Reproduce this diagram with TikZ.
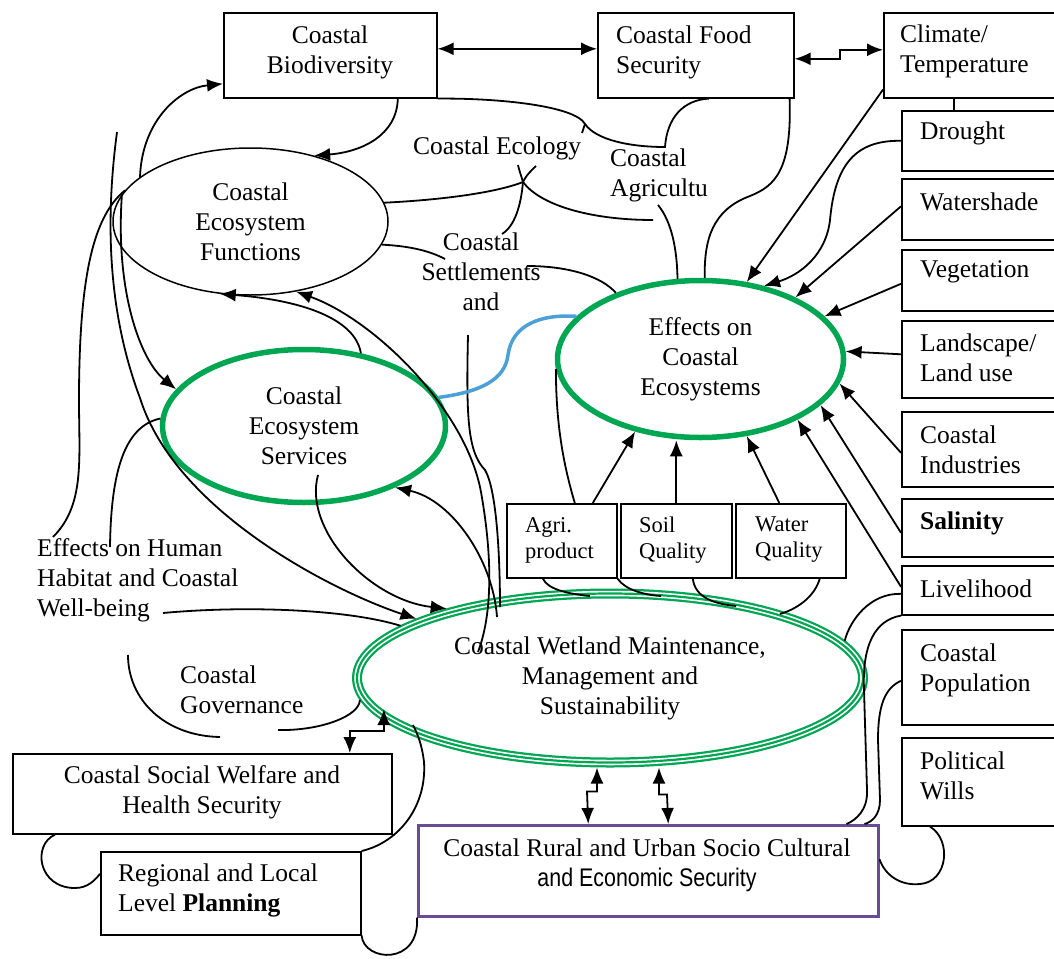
\documentclass[tikz,border=0pt]{standalone}
\usepackage{fontspec}
\setmainfont{Liberation Serif}
\setsansfont{Liberation Sans}
\usepackage{graphicx}
\usetikzlibrary{arrows.meta,shapes.geometric}
\definecolor{cgreen}{RGB}{0,166,81}
\definecolor{cblue}{RGB}{75,160,215}
\definecolor{cpurple}{RGB}{105,75,150}
\begin{document}
\begin{tikzpicture}[x=1pt,y=-1pt,
  every node/.style={inner sep=0pt},
  bigfont/.style={font=\fontsize{25.5}{30}\selectfont},
  smallfont/.style={font=\fontsize{22.5}{26}\selectfont},
  box/.style={draw, line width=1.6pt, rectangle, anchor=north west},
  lbl/.style={bigfont, align=left, anchor=west},
  ctext/.style={bigfont, align=center},
  con/.style={line width=1.8pt},
  arr/.style={con,-{Latex[length=16pt,width=13pt]}},
  dar/.style={con,{Latex[length=16pt,width=13pt]}-{Latex[length=16pt,width=13pt]}},
  gell/.style={ellipse, draw=cgreen, line width=5.5pt, bigfont, align=center},
]
\useasboundingbox (0,0) rectangle (1054,958);

% ---------- top boxes ----------
\node[box, minimum width=213pt, minimum height=85pt] (bio) at (223,12) {};
\node[ctext] (biot) at (330,52) {Coastal\\Biodiversity};
\node[box, minimum width=196pt, minimum height=85pt] (food) at (597,12) {};
\node[lbl] (foodt) at (616,52) {Coastal Food\\Security};
\node[box, minimum width=177pt, minimum height=85pt] (clim) at (883,12) {};
\node[lbl] (climt) at (900,51) {Climate/\\Temperature};

% ---------- right column ----------
\node[box, minimum width=160pt, minimum height=60pt] (drought) at (901,110) {};
\node[lbl] at (920,133) {Drought};
\node[box, minimum width=160pt, minimum height=61pt] (water) at (901,178) {};
\node[lbl] at (920,202) {Watershade};
\node[box, minimum width=160pt, minimum height=61pt] (veg) at (901,249) {};
\node[lbl] at (920,272) {Vegetation};
\node[box, minimum width=160pt, minimum height=77pt] (land) at (901,320) {};
\node[lbl] at (920,358) {Landscape/\\Land use};
\node[box, minimum width=160pt, minimum height=75pt] (ind) at (901,411) {};
\node[lbl] at (920,450) {Coastal\\Industries};
\node[box, minimum width=160pt, minimum height=58pt] (sal) at (901,498) {};
\node[lbl] at (920,523) {\textbf{Salinity}};
\node[box, minimum width=160pt, minimum height=49pt] (live) at (901,565) {};
\node[lbl] at (920,589) {Livelihood};
\node[box, minimum width=160pt, minimum height=95pt] (pop) at (901,629) {};
\node[lbl] at (920,670) {Coastal\\Population};
\node[box, minimum width=160pt, minimum height=88pt] (pol) at (901,737) {};
\node[lbl] at (920,776) {Political\\Wills};

% ---------- small boxes ----------
\node[box, minimum width=110pt, minimum height=74pt] (agri) at (506,503) {};
\node[lbl, smallfont] at (525,540) {Agri.\\product};
\node[box, minimum width=111pt, minimum height=74pt] (soil) at (620,503) {};
\node[lbl, smallfont] at (639,540) {Soil\\Quality};
\node[box, minimum width=110pt, minimum height=74pt] (wq) at (735,503) {};
\node[lbl, smallfont] at (755,540) {Water\\Quality};

% ---------- bottom boxes ----------
\node[box, minimum width=379pt, minimum height=80pt] (welf) at (12,753) {};
\node[ctext] at (202,792) {Coastal Social Welfare and\\Health Security};
\node[box, minimum width=260pt, minimum height=83pt] (reg) at (100,851) {};
\node[lbl] at (118,890) {Regional and Local\\Level \textbf{Planning}};
\node[box, draw=cpurple, line width=2.5pt, minimum width=460pt, minimum height=91pt] (rural) at (417,824) {};
\node[ctext] at (647,865) {Coastal Rural and Urban Socio Cultural\\{\sffamily\scalebox{0.84}[1]{and Economic Security}}};

% ---------- ellipses ----------
\node[ellipse, draw, line width=1.5pt, minimum width=275pt, minimum height=147pt, bigfont, align=center] (func) at (250.5,221.5) {Coastal\\Ecosystem\\Functions};
\node[gell, minimum width=283pt, minimum height=153pt] (serv) at (304,426) {Coastal\\Ecosystem\\Services};
\node[gell, minimum width=286pt, minimum height=157pt] (eff) at (700.5,359) {Effects on\\Coastal\\Ecosystems};
\node[ellipse, draw=cgreen, line width=10pt, minimum width=506pt, minimum height=169pt,
      postaction={draw=white, line width=5.5pt}, postaction={draw=cgreen, line width=2.2pt},
      bigfont, align=center] (wet) at (610,678) {Coastal Wetland Maintenance,\\Management and\\Sustainability};

% ---------- free texts ----------
\node[lbl] (ecol) at (413,148) {Coastal Ecology};
\node[lbl] (agric) at (610,175) {Coastal\\Agricultu};
\node[ctext] (settl) at (481,272) {Coastal\\Settlements\\and};
\node[lbl] (human) at (37,580) {Effects on Human\\Habitat and Coastal\\Well-being};
\node[lbl] (gov) at (180,690) {Coastal\\Governance};

% ---------- free-end coordinates ----------
\coordinate (hook) at (585,124);
\coordinate (fk) at (665,147);
\coordinate (J) at (523,182);
\coordinate (agE) at (658,205);
\coordinate (stR) at (527,266);
\coordinate (stL) at (445,259);
\coordinate (stT) at (502,234);
\coordinate (agR) at (653,220);
\coordinate (wetIn) at (478,652);
\coordinate (andB) at (468,335);
\coordinate (wetT1) at (497,617);
\coordinate (wetT2) at (500,607);
\coordinate (servIn) at (318,475);
\coordinate (lineA) at (117,132);
\coordinate (h1) at (53,537);
\coordinate (h2) at (110,547);
\coordinate (h3) at (163,613);
\coordinate (govA) at (128,655);
\coordinate (govB) at (220,737);
\coordinate (govC) at (278,730);
\coordinate (regIn) at (413,725);

% ---------- top connectors ----------
\draw[dar] ([yshift=6.5pt]bio.east) -- ([yshift=6.5pt]food.west);
\draw[dar] ([yshift=-3.5pt]food.east) -- ++(45,0) -- ++(0,-9) -- ([yshift=5.5pt]clim.west);
\draw[con] (clim.south -| 954,0) -- (drought.north -| 954,0);

\draw[arr] ([xshift=67.5pt]bio.south) .. controls (397,135) and (362,152) .. (func.46);
\draw[arr] (func.158) .. controls (142,120) and (180,88) .. ([yshift=-28.5pt]bio.west);

\draw[con] (bio.south east) .. controls (500,98) and (575,106) .. (hook) -- (582,133);
\draw[con] (hook) .. controls (596,140) and (630,147) .. (fk) .. controls (667,118) and (683,100) .. ([xshift=13pt]food.south);
\draw[con] ([xshift=-5pt]food.south east) .. controls (792,170) and (775,186) .. (750,196) .. controls (712,210) and (704,240) .. (eff.87);

% Coastal Ecology junction
\draw[con] (func.8) .. controls (440,200) and (495,193) .. (J);
\draw[con] (J) .. controls (521,205) and (515,226) .. (stT);
\draw[con] (J) .. controls (540,205) and (590,220) .. (agR);
\draw[con] (J) .. controls (521,175) and (519,170) .. (518,165);
\draw[con] (J) .. controls (527,174) and (532,170) .. (536,166);

\draw[con] (agE) .. controls (672,222) and (677,250) .. (eff.106);
\draw[con] (func.-10) .. controls (410,246) and (430,251) .. (stL);
\draw[con] (stR) .. controls (570,266) and (602,277) .. (eff.142);

% ---------- left connectors ----------
\draw[arr] (serv.52) .. controls (355,318) and (300,300) .. (func.-113);
\draw[arr] (wetIn) .. controls (492,615) and (493,560) .. (481,492) .. controls (466,410) and (375,320) .. (func.-57);
\draw[con] (andB) .. controls (466,420) and (468,452) .. (485,470) .. controls (497,490) and (500,560) .. (wetT2);
\draw[arr] (wetT1) .. controls (493,560) and (452,500) .. (serv.-34);
\draw[arr] (servIn) .. controls (303,530) and (370,600) .. (wet.157);
\draw[arr] (lineA) .. controls (108,200) and (103,300) .. (140,398) .. controls (175,510) and (330,590) .. (wet.163);
\draw[arr] (func.168) .. controls (115,290) and (140,360) .. (serv.164);
\draw[con] (h1) .. controls (85,505) and (79,460) .. (79,400) .. controls (79,270) and (95,215) .. (func.166);
\draw[con] (h2) .. controls (111,470) and (125,426) .. (serv.177);
\draw[con] (h3) .. controls (250,605) and (350,610) .. (wet.166);

\draw[cblue, line width=3.5pt] (serv.12) .. controls (480,392) and (505,380) .. (508,355) .. controls (512,325) and (540,314) .. (eff.161);

% ---------- small boxes ----------
\draw[con] ([xshift=13pt]agri.north) .. controls (562,460) and (556,420) .. (eff.-176);
\draw[arr] ([xshift=31pt]agri.north) -- (eff.-132);
\draw[arr] (soil.north) -- (soil.north |- eff.south);
\draw[arr] ([xshift=-11.5pt]wq.north) -- (eff.-59);

\draw[con] ([xshift=-19pt]agri.south) .. controls (548,590) and (570,594) .. (590,596);
\draw[con] (agri.south east) .. controls (625,590) and (645,595) .. (661,596);
\draw[con] ([xshift=16.5pt]soil.south) .. controls (695,598) and (715,604) .. (736,606);
\draw[con] ([xshift=29pt]wq.south) .. controls (815,595) and (800,608) .. (780,614);

% ---------- right column connectors ----------
\draw[arr] ([yshift=9pt]clim.south west) -- (eff.59);
\draw[arr] (drought.west) .. controls (855,140) and (835,165) .. (830,220) .. controls (826,255) and (800,275) .. (eff.49);
\draw[arr] ([yshift=3pt]water.west) -- (eff.33);
\draw[arr] ([yshift=-3.5pt]veg.west) -- (eff.19);
\draw[arr] ([yshift=5pt]land.west) -- (eff.3);
\draw[arr] ([yshift=-3.5pt]ind.west) -- (eff.-10);
\draw[arr] ([yshift=-5pt]sal.west) -- (eff.-21);
\draw[arr] ([yshift=3.5pt]live.west) -- (eff.-32);

\draw[con] ([yshift=-3.5pt]live.west) .. controls (870,593) and (850,620) .. (wet.9);
\draw[con] (live.south west) .. controls (875,620) and (862,645) .. (864,690) -- (867,790) .. controls (868,810) and (856,820) .. ([xshift=-33pt]rural.north east);
\draw[con] ([yshift=-3.5pt]pop.west) .. controls (885,688) and (878,705) .. (878,740) -- (880,800) .. controls (880,815) and (872,822) .. ([xshift=-15pt]rural.north east);
\draw[con] ([xshift=29pt]pol.south west) .. controls (952,840) and (948,882) .. (920,884) .. controls (900,886) and (885,875) .. ([yshift=11.5pt]rural.east);

% ---------- bottom connectors ----------
\draw[dar] ([xshift=-13pt]wet.south) -- ++(0,24) -- ++(-10,0) -- ([xshift=-60pt]rural.north);
\draw[dar] ([xshift=49pt]wet.south) -- ++(0,27) -- ++(8,0) -- ([xshift=20pt]rural.north);
\draw[dar] ([xshift=147.5pt]welf.north) -- ++(0,-22) -- ++(34,0) -- ++(0,-22);

\draw[con] (govA) .. controls (128,700) and (165,736) .. (govB);
\draw[con] (govC) .. controls (320,731) and (360,716) .. (wet.-175);

\draw[con] (reg.north east) .. controls (400,842) and (427,805) .. (424,762) .. controls (422,745) and (418,735) .. (regIn);
\draw[con] ([xshift=43pt]welf.south west) .. controls (32,845) and (38,888) .. (75,888) .. controls (88,888) and (95,880) .. ([yshift=19.5pt]reg.west);
\draw[con] (reg.south east) .. controls (364,962) and (420,966) .. (rural.south west);
\end{tikzpicture}
\end{document}
